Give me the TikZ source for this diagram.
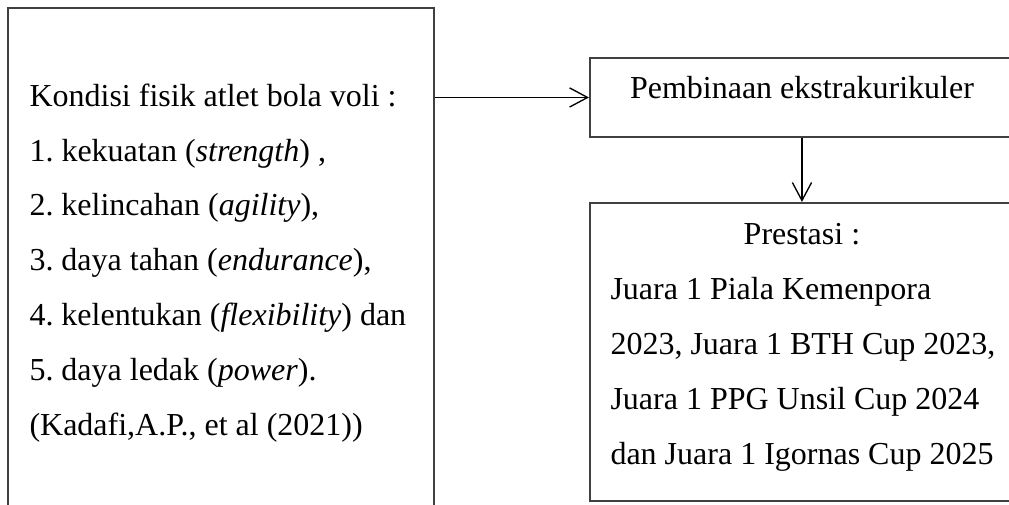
\documentclass[tikz,border=0pt]{standalone}
\usepackage{fontspec}
\setmainfont{Liberation Serif}
\usepackage{xcolor}
\usepackage{tikz}
\usetikzlibrary{arrows.meta}
\definecolor{frame}{HTML}{404040}
\definecolor{ink}{HTML}{000000}
\frenchspacing
\tikzset{
  box/.style={draw=frame, line width=0.75pt, rectangle, inner sep=0pt},
  link/.style={draw=ink, line width=0.5pt, -{Straight Barb[length=6.75pt,width=7.2pt]}},
  txt/.style={
    font=\fontsize{12}{20.6}\selectfont,
    text=ink,
    inner sep=0pt,
    align=left
  }
}

\begin{document}
\begin{tikzpicture}
  \clip (0,0) rectangle (13.299,6.656);

  \node[box, minimum width=5.615cm, minimum height=6.695cm] (fisik) at (2.913,3.203) {};
  \node[txt, anchor=north west] (fisiktxt) at (0.382,5.561)
  {Kondisi fisik atlet bola voli :\\
   1. kekuatan (\textit{strength}) ,\\
   2. kelincahan (\textit{agility}),\\
   3. daya tahan (\textit{endurance}),\\
   4. kelentukan (\textit{flexibility}) dan\\
   5. daya ledak (\textit{power}).\\
   (Kadafi,A.P., et al (2021))};

  \node[box, minimum width=5.588cm, minimum height=1.041cm] (bina) at (10.570,5.371) {};
  \node[txt, anchor=base] (binatxt) at (10.570,5.364) {Pembinaan ekstrakurikuler};

  \node[box, minimum width=5.588cm, minimum height=3.928cm] (hasil) at (10.570,2.017) {};
  \node[txt, anchor=base] (hasiltitle) at (10.570,3.427) {Prestasi :};
  \node[txt, anchor=north west] (hasiltxt) at (8.040,3.004)
  {Juara 1 Piala Kemenpora\\
   2023, Juara 1 BTH Cup 2023,\\
   Juara 1 PPG Unsil Cup 2024\\
   dan Juara 1 Igornas Cup 2025};

  \draw[link] (fisik.east |- bina.west) -- (bina.west);
  \draw[link] (bina.south) -- (hasil.north);
\end{tikzpicture}
\end{document}
